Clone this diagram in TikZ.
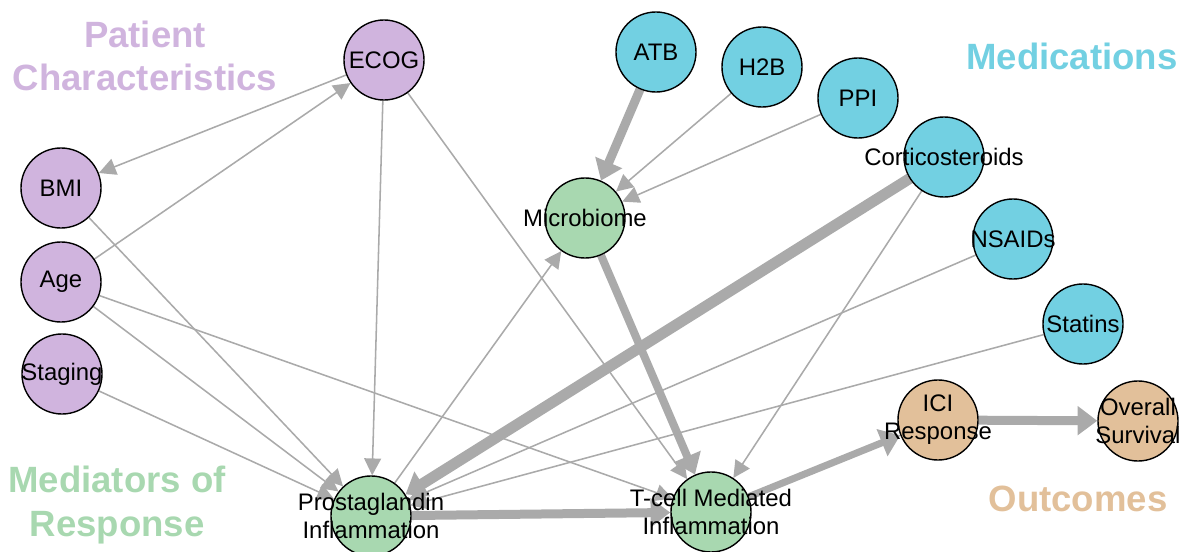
\documentclass[tikz,border=0pt]{standalone}
\usepackage{fontspec}
\setmainfont{Liberation Sans}
\usetikzlibrary{arrows.meta,backgrounds}

\definecolor{patient}{RGB}{208,180,222}
\definecolor{meds}{RGB}{114,208,226}
\definecolor{mediator}{RGB}{168,216,176}
\definecolor{outcome}{RGB}{226,192,154}
\definecolor{edgegray}{RGB}{170,170,170}

\tikzset{
    varnode/.style={circle, draw=black, line width=1pt, minimum size=2cm, inner sep=0pt},
    every label/.style={font=\fontsize{17}{20}\selectfont, align=center, inner sep=0pt},
    grouptitle/.style={font=\fontsize{26}{31}\selectfont\bfseries, align=center, inner sep=0pt}
}

\begin{document}
\begin{tikzpicture}[x=0.025cm, y=-0.025cm]
    \clip (0,0) rectangle (1180,552);
    %group titles
    \node [grouptitle, text=patient] (title-pc) at (145,56) {Patient\\Characteristics};
    \node [grouptitle, text=meds] (title-med) at (1072,56) {Medications};
    \node [grouptitle, text=mediator] (title-mr) at (117,505) {Mediators of\\Response};
    \node [grouptitle, text=outcome] (title-out) at (1078,499) {Outcomes};

    %patient characteristics
    \node [varnode, fill=patient, label={center:ECOG}] (ecog) at (384,60) {};
    \node [varnode, fill=patient, label={center:BMI}] (bmi) at (61,188) {};
    \node [varnode, fill=patient, label={center:Age}] (age) at (61,282) {};
    \node [varnode, fill=patient, label={center:Staging}] (staging) at (62,374) {};

    %medications
    \node [varnode, fill=meds, label={center:ATB}] (atb) at (656,52) {};
    \node [varnode, fill=meds, label={center:H2B}] (h2b) at (762,67) {};
    \node [varnode, fill=meds, label={center:PPI}] (ppi) at (858,98) {};
    \node [varnode, fill=meds, label={center:Corticosteroids}] (cortico) at (944,157) {};
    \node [varnode, fill=meds, label={center:NSAIDs}] (nsaids) at (1013,239) {};
    \node [varnode, fill=meds, label={center:Statins}] (statins) at (1083,324) {};

    %mediators
    \node [varnode, fill=mediator, label={center:Microbiome}] (micro) at (585,218) {};
    \node [varnode, fill=mediator, label={center:{Prostaglandin\\Inflammation}}] (prosta) at (371,516) {};
    \node [varnode, fill=mediator, label={center:{T-cell Mediated\\Inflammation}}] (tcell) at (711,512) {};

    %outcomes
    \node [varnode, fill=outcome, label={center:{ICI\\Response}}] (ici) at (938,420) {};
    \node [varnode, fill=outcome, label={center:{Overall\\Survival}}] (os) at (1138,421) {};

    \begin{scope}[on background layer, >={Triangle[length=12pt, width=12pt]},
                every edge/.style={draw=edgegray, line width=1.1pt}]
        \path [->] (ecog) edge (bmi);
        \path [->] (age) edge (ecog);
        \path [->] (bmi) edge (prosta);
        \path [->] (age) edge (prosta);
        \path [->] (staging) edge (prosta);
        \path [->] (ecog) edge (prosta);
        \path [->] (age) edge (tcell);
        \path [->] (ecog) edge (tcell);
        \path [->] (h2b) edge (micro);
        \path [->] (ppi) edge (micro);
        \path [->] (prosta) edge (micro);
        \path [->] (cortico) edge (tcell);
        \path [->] (nsaids) edge (prosta);
        \path [->] (statins) edge (prosta);
    \end{scope}

    \begin{scope}[on background layer, >={Triangle[length=14pt, width=20pt]},
                every edge/.style={draw=edgegray, line width=6.4pt}]
        \path [->] (atb) edge (micro);
        \path [->] (cortico) edge [line width=7.8pt] (prosta);
        \path [->] (micro) edge [line width=5.7pt] (tcell);
        \path [->] (prosta) edge (tcell);
        \path [->] (tcell) edge [line width=5pt] (ici);
        \path [->] (ici) edge (os);
    \end{scope}
\end{tikzpicture}
\end{document}
